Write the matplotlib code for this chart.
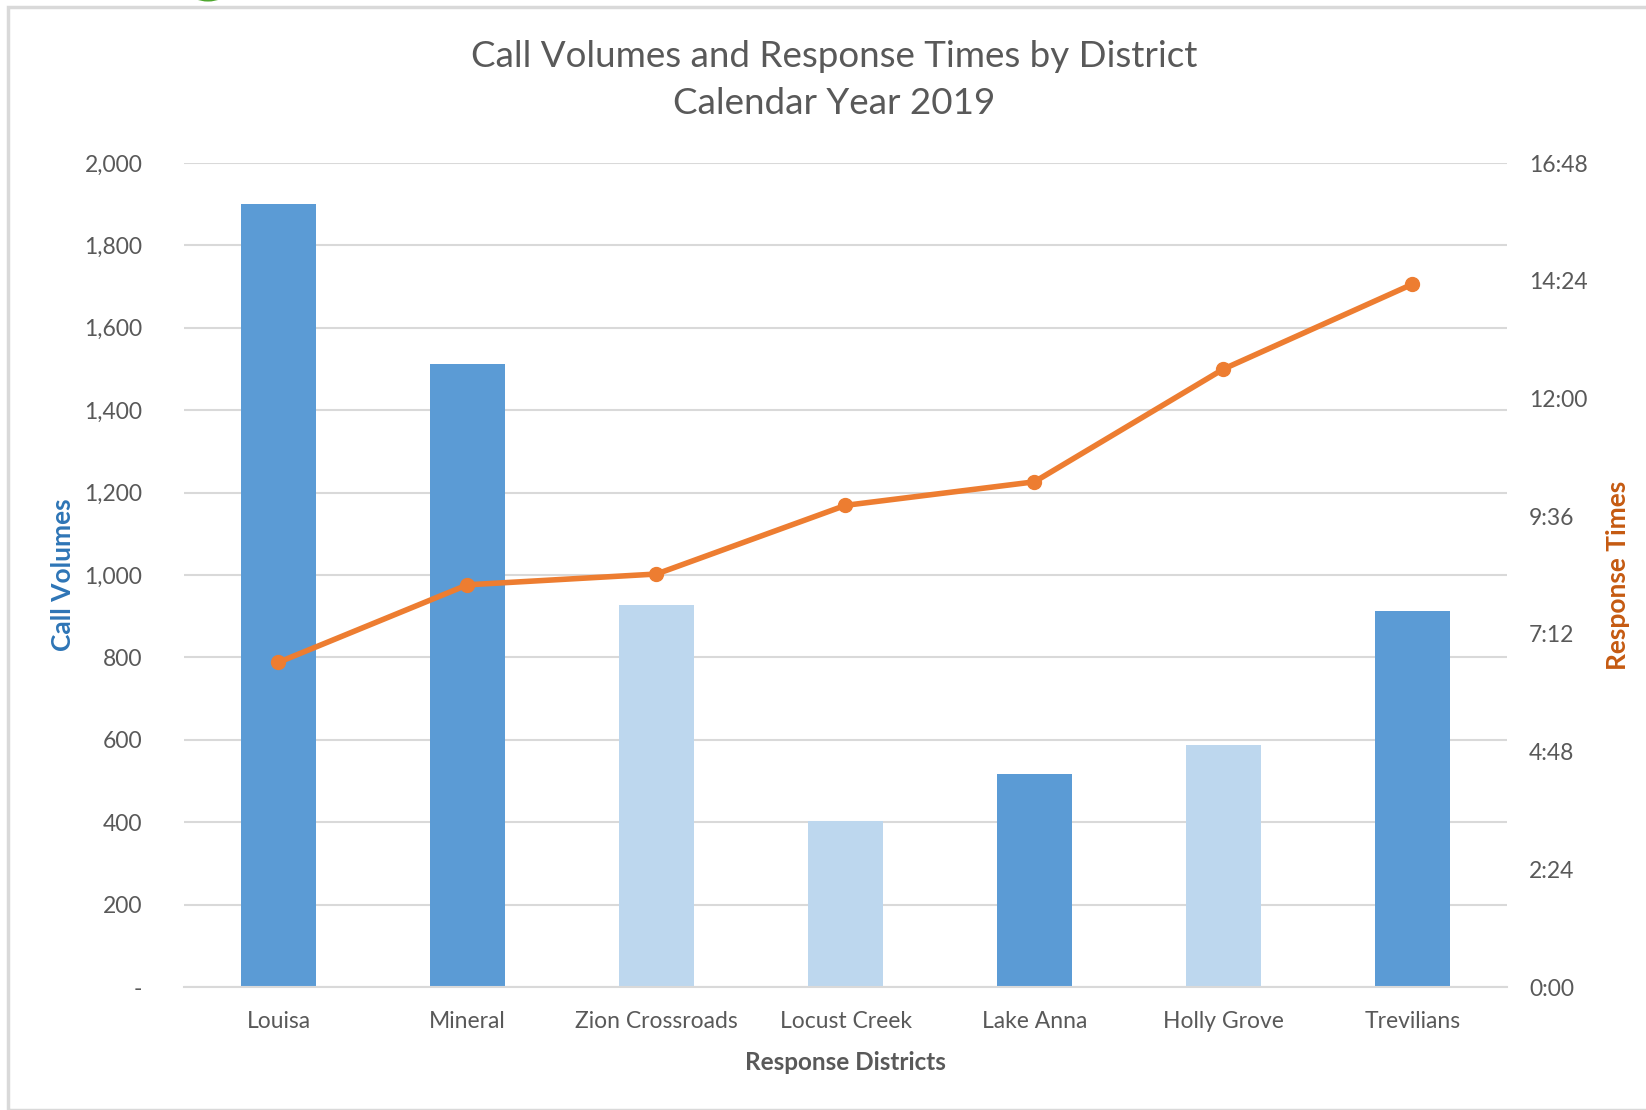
import matplotlib.pyplot as plt
from matplotlib.ticker import FuncFormatter
from matplotlib.patches import Rectangle, Wedge

# Data
districts = ["Louisa", "Mineral", "Zion Crossroads", "Locust Creek",
             "Lake Anna", "Holly Grove", "Trevilians"]
call_volumes = [1900, 1513, 928, 402, 517, 588, 912]
# response times in minutes
response_minutes = [6.62, 8.20, 8.42, 9.82, 10.30, 12.60, 14.33]
light_bar = [False, False, True, True, False, True, False]

DARK_BLUE = "#5B9BD5"
LIGHT_BLUE = "#BDD7EE"
ORANGE = "#ED7D31"
TEXT = "#595959"

plt.rcParams["font.family"] = ["Lato", "DejaVu Sans"]

fig = plt.figure(figsize=(16.46, 11.10), dpi=100)
W, H = 1646, 1110

# outer frame of the chart area
fig.patches.append(Rectangle((8 / W, 0), 1.0, 1 - 7 / H, transform=fig.transFigure,
                             fill=False, edgecolor="#D9D9D9", linewidth=2.5))
# partial green logo clipped at the top
fig.patches.append(Wedge((208 / W, 1 + 14 / H), 22 / W, 200, 340,
                         width=9 / W, transform=fig.transFigure,
                         color="#4EA72E"))

ax = fig.add_axes([184 / W, 1 - 987 / H, (1507 - 184) / W, (987 - 163) / H])
ax2 = ax.twinx()

x = list(range(len(districts)))
colors = [LIGHT_BLUE if lt else DARK_BLUE for lt in light_bar]
ax.bar(x, call_volumes, width=0.4, color=colors, zorder=2)

ax2.plot(x, response_minutes, color=ORANGE, linewidth=4, marker="o",
         markersize=10, zorder=3)

ax.set_xlim(-0.5, len(districts) - 0.5)
ax.set_ylim(0, 2000)
ax.set_yticks(range(0, 2001, 200))
ax.yaxis.set_major_formatter(FuncFormatter(lambda v, p: "-" if v == 0 else f"{int(v):,}"))
ax2.set_ylim(0, 16.8)
ax2.set_yticks([i * 2.4 for i in range(8)])
ax2.yaxis.set_major_formatter(
    FuncFormatter(lambda v, p: f"{int(round(v * 60)) // 60}:{int(round(v * 60)) % 60:02d}"))

ax.grid(axis="y", color="#D9D9D9", linewidth=1.5, zorder=0)
ax.set_axisbelow(True)
for a in (ax, ax2):
    for s in a.spines.values():
        s.set_visible(False)
    a.tick_params(length=0, labelsize=16.5, labelcolor=TEXT)
ax.spines["bottom"].set_visible(True)
ax.spines["bottom"].set_color("#D9D9D9")
ax.spines["bottom"].set_linewidth(1.5)

ax.set_xticks(x)
ax.set_xticklabels(districts)
ax.tick_params(axis="x", pad=17)
ax.tick_params(axis="y", pad=30)
ax2.tick_params(axis="y", pad=16)

ax.set_xlabel("Response Districts", fontsize=17.5, fontweight="bold", color=TEXT, labelpad=14)
ax.set_ylabel("Call Volumes", fontsize=19, fontweight="bold", color="#2E75B6")
ax2.set_ylabel("Response Times", fontsize=19, fontweight="bold", color="#C55A11")
ax.yaxis.set_label_coords(63 / W, 0.5, transform=fig.transFigure)
ax2.yaxis.set_label_coords(1618 / W, 0.5, transform=fig.transFigure)
ax2.yaxis.label.set_rotation(90)
ax.yaxis.label.set_va("center")
ax2.yaxis.label.set_va("center")
ax.yaxis.label.set_y(1 - 575 / H)
ax2.yaxis.label.set_y(1 - 575 / H)

fig.text(0.507, 1 - 80 / H, "Call Volumes and Response Times by District\nCalendar Year 2019",
         ha="center", va="center", fontsize=26.5, color=TEXT, linespacing=1.5)

fig.savefig("out.png", dpi=100)
